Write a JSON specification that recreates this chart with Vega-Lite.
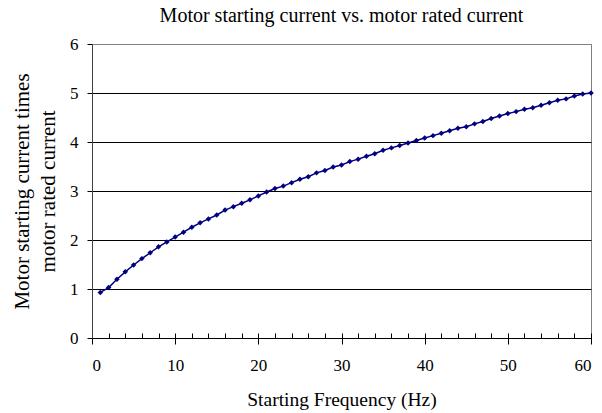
{
  "$schema": "https://vega.github.io/schema/vega-lite/v6.json",
  "width": 499,
  "height": 294,
  "autosize": "none",
  "padding": {"left": 92, "top": 44, "right": 11, "bottom": 75},
  "background": "white",
  "config": {
    "view": {"stroke": "#808080", "strokeWidth": 1},
    "font": "Liberation Serif",
    "axis": {"labelFont": "Liberation Serif", "titleFont": "Liberation Serif"}
  },
  "title": {
    "text": "Motor starting current vs. motor rated current",
    "font": "Liberation Serif",
    "fontSize": 20,
    "fontWeight": "normal",
    "color": "black",
    "anchor": "middle",
    "offset": 9
  },
  "data": {
    "values": [
      {"f": 1, "c": 0.93}, {"f": 2, "c": 1.03}, {"f": 3, "c": 1.20}, {"f": 4, "c": 1.35},
      {"f": 5, "c": 1.49}, {"f": 6, "c": 1.62}, {"f": 7, "c": 1.74}, {"f": 8, "c": 1.86},
      {"f": 9, "c": 1.96}, {"f": 10, "c": 2.06}, {"f": 11, "c": 2.16}, {"f": 12, "c": 2.26},
      {"f": 13, "c": 2.35}, {"f": 14, "c": 2.43}, {"f": 15, "c": 2.51}, {"f": 16, "c": 2.61},
      {"f": 17, "c": 2.68}, {"f": 18, "c": 2.75}, {"f": 19, "c": 2.82}, {"f": 20, "c": 2.90},
      {"f": 21, "c": 2.98}, {"f": 22, "c": 3.05}, {"f": 23, "c": 3.10}, {"f": 24, "c": 3.17},
      {"f": 25, "c": 3.24}, {"f": 26, "c": 3.29}, {"f": 27, "c": 3.37}, {"f": 28, "c": 3.42},
      {"f": 29, "c": 3.49}, {"f": 30, "c": 3.53}, {"f": 31, "c": 3.60}, {"f": 32, "c": 3.65},
      {"f": 33, "c": 3.71}, {"f": 34, "c": 3.76}, {"f": 35, "c": 3.83}, {"f": 36, "c": 3.88},
      {"f": 37, "c": 3.93}, {"f": 38, "c": 3.98}, {"f": 39, "c": 4.03}, {"f": 40, "c": 4.08},
      {"f": 41, "c": 4.13}, {"f": 42, "c": 4.18}, {"f": 43, "c": 4.23}, {"f": 44, "c": 4.28},
      {"f": 45, "c": 4.31}, {"f": 46, "c": 4.37}, {"f": 47, "c": 4.42}, {"f": 48, "c": 4.48},
      {"f": 49, "c": 4.53}, {"f": 50, "c": 4.58}, {"f": 51, "c": 4.62}, {"f": 52, "c": 4.67},
      {"f": 53, "c": 4.70}, {"f": 54, "c": 4.75}, {"f": 55, "c": 4.80}, {"f": 56, "c": 4.85},
      {"f": 57, "c": 4.88}, {"f": 58, "c": 4.94}, {"f": 59, "c": 4.98}, {"f": 60, "c": 5.00}
    ]
  },
  "encoding": {
    "y": {
      "field": "c",
      "type": "quantitative",
      "scale": {"domain": [0, 6], "nice": false, "zero": true},
      "axis": {
        "values": [0, 1, 2, 3, 4, 5, 6],
        "title": ["Motor starting current times", "motor rated current"],
        "titleFont": "Liberation Serif",
        "titleFontSize": 21,
        "titleFontWeight": "normal",
        "titleColor": "black",
        "titleLineHeight": 26,
        "titlePadding": 11,
        "labelFont": "Liberation Serif",
        "labelFontSize": 17,
        "labelColor": "black",
        "labelPadding": 9,
        "tickSize": 5,
        "tickColor": "black",
        "domainColor": "#404040",
        "grid": true,
        "gridColor": {"condition": {"test": "datum.value === 6", "value": "#808080"}, "value": "black"},
        "gridOpacity": 1,
        "gridWidth": 1
      }
    }
  },
  "layer": [
    {
      "mark": {"type": "line", "color": "#000080", "strokeWidth": 1.5},
      "encoding": {
        "x": {
          "field": "f",
          "type": "quantitative",
          "scale": {"domain": [0, 60], "nice": false},
          "axis": {
            "orient": "bottom",
            "values": [0, 10, 20, 30, 40, 50, 60],
            "title": "Starting Frequency (Hz)",
            "titleFont": "Liberation Serif",
            "titleFontSize": 19.5,
            "titleFontWeight": "normal",
            "titleColor": "black",
            "titlePadding": 17,
            "labelFont": "Liberation Serif",
            "labelFontSize": 17,
            "labelColor": "black",
            "labelPadding": 13,
            "tickSize": 6,
            "tickColor": "black",
            "domainColor": "black",
            "grid": false
          }
        }
      }
    },
    {
      "mark": {"type": "point", "shape": "diamond", "filled": true, "color": "#000080", "size": 30, "opacity": 1},
      "encoding": {
        "x": {
          "field": "f",
          "type": "quantitative",
          "scale": {"domain": [0, 60], "nice": false},
          "axis": {
            "orient": "bottom",
            "values": [0, 2, 4, 6, 8, 10, 12, 14, 16, 18, 20, 22, 24, 26, 28, 30, 32, 34, 36, 38, 40, 42, 44, 46, 48, 50, 52, 54, 56, 58, 60],
            "title": null,
            "labels": false,
            "domain": false,
            "grid": false,
            "tickSize": -5,
            "tickColor": "black"
          }
        }
      }
    }
  ],
  "resolve": {"axis": {"x": "independent"}}
}
